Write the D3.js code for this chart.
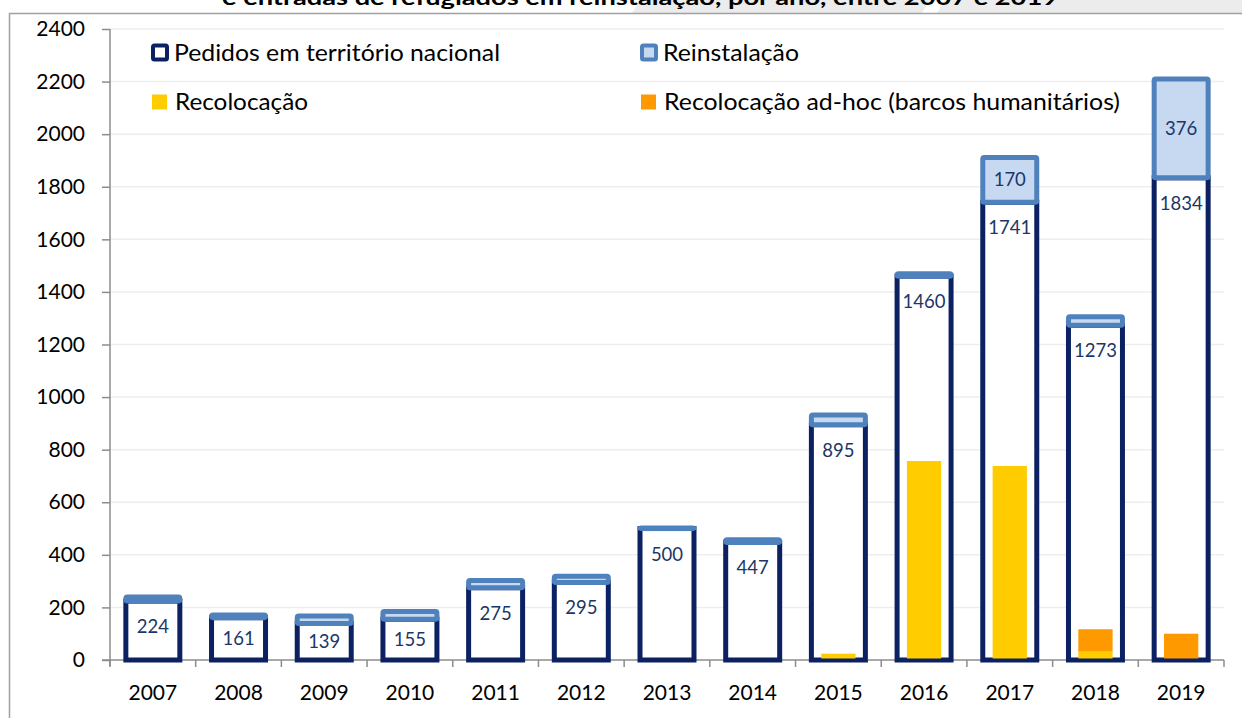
<!DOCTYPE html>
<html>
<head>
<meta charset="utf-8">
<script src="https://cdn.jsdelivr.net/npm/d3@7"></script>
<style>
  body { margin: 0; background: #fff; }
  svg { display: block; font-family: Lato, "Open Sans", sans-serif; }
</style>
</head>
<body>
<svg id="chart" width="1242" height="718"></svg>
<script>
// ---------------- data ----------------
var years = ['2007','2008','2009','2010','2011','2012','2013','2014','2015','2016','2017','2018','2019'];
var pedidos = [224,161,139,155,275,295,500,447,895,1460,1741,1273,1834];
var reinstalacao = [16,10,28,29,27,24,2,10,37,9,170,33,376];
var recolocacao = [0,0,0,0,0,0,0,0,24,757,738,32,0];
var recolocacaoAdhoc = [0,0,0,0,0,0,0,0,0,0,0,85,100];
var yTicks = [0,200,400,600,800,1000,1200,1400,1600,1800,2000,2200,2400];
var labeledReinst = ['2017','2019']; // only these caps carry a label

var title = 'e entradas de refugiados em reinstalação, por ano, entre 2007 e 2019';

var navy = '#0b2161', capStroke = '#4f81bd', capFill = '#c6d9f1';
var yellow = '#ffcc00', orange = '#ff9900', labelCol = '#1b3668';

var svg = d3.select('#chart');

// scales
var x = d3.scaleBand().domain(years).range([110, 1224]);
var y = d3.scaleLinear().domain([0, 2400]).range([660, 29]);

var outerW = x.bandwidth() * 0.63;
var innerW = x.bandwidth() * 0.40;

//----------------- title strip + frame -----------------
svg.append('path')
  .attr('d', 'M640,0 L1242,0 L1242,13 L632,13 Z')
  .attr('fill', '#ececec');
svg.append('path')
  .attr('d', 'M930,0 L945,0 L937,13 L922,13 Z')
  .attr('fill', '#fff');

svg.append('text')
  .attr('x', 640).attr('y', 5)
  .attr('text-anchor', 'middle')
  .attr('font-weight', 'bold')
  .attr('font-size', 21)
  .attr('textLength', 836)
  .attr('lengthAdjust', 'spacingAndGlyphs')
  .text(title);

svg.append('rect')
  .attr('x', 9.5).attr('y', 13.5)
  .attr('width', 1250).attr('height', 720)
  .attr('fill', 'none')
  .attr('stroke', '#a0a0a0').attr('stroke-width', 1.5);

//----------------- gridlines -----------------
svg.append('g').selectAll('line')
  .data(yTicks.filter(d => d > 0))
  .enter().append('line')
  .attr('x1', 110).attr('x2', 1224)
  .attr('y1', d => y(d)).attr('y2', d => y(d))
  .attr('stroke', '#eeeeee').attr('stroke-width', 1.5);

//----------------- axes -----------------
var yAxis = svg.append('g')
  .attr('transform', 'translate(110,0)')
  .call(d3.axisLeft(y).tickValues(yTicks).tickFormat(d3.format('d')).tickSize(8).tickPadding(17));
yAxis.select('.domain').attr('stroke', '#8c8c8c').attr('stroke-width', 1.5)
  .attr('d', 'M0,' + y(2400) + 'V666');
yAxis.selectAll('.tick line').attr('stroke', '#8c8c8c').attr('stroke-width', 1.5);
yAxis.selectAll('.tick text').attr('font-size', 21).attr('fill', '#000')
  .attr('font-family', 'Lato, sans-serif');

var xAxis = svg.append('g')
  .attr('transform', 'translate(0,660)');
xAxis.append('line')
  .attr('x1', 102).attr('x2', 1224)
  .attr('stroke', '#8c8c8c').attr('stroke-width', 1.5);
xAxis.selectAll('line.tk')
  .data(years.concat(['end']))
  .enter().append('line')
  .attr('class', 'tk')
  .attr('x1', (d, i) => 110 + i * x.step()).attr('x2', (d, i) => 110 + i * x.step())
  .attr('y1', 0).attr('y2', 7)
  .attr('stroke', '#8c8c8c').attr('stroke-width', 1.5);
xAxis.selectAll('text')
  .data(years)
  .enter().append('text')
  .attr('x', d => x(d) + x.bandwidth() / 2)
  .attr('y', 40)
  .attr('text-anchor', 'middle')
  .attr('font-size', 21)
  .text(d => d);

//----------------- bars -----------------
var rows = years.map((yr, i) => ({
  year: yr, ped: pedidos[i], rein: reinstalacao[i],
  rec: recolocacao[i], adhoc: recolocacaoAdhoc[i]
}));

var bars = svg.append('g');

// pedidos em territorio nacional (white with navy outline)
bars.selectAll('rect.ped')
  .data(rows).enter().append('rect')
  .attr('class', 'ped')
  .attr('x', d => x(d.year) + (x.bandwidth() - outerW) / 2)
  .attr('width', outerW)
  .attr('y', d => y(d.ped))
  .attr('height', d => y(0) - y(d.ped))
  .attr('fill', '#fff')
  .attr('stroke', navy).attr('stroke-width', 5);

// recolocacao (yellow) and ad-hoc (orange) stacked, narrower
bars.selectAll('rect.rec')
  .data(rows.filter(d => d.rec > 0)).enter().append('rect')
  .attr('x', d => x(d.year) + (x.bandwidth() - innerW) / 2)
  .attr('width', innerW)
  .attr('y', d => y(d.rec))
  .attr('height', d => y(0) - y(d.rec) - 1.5)
  .attr('fill', yellow);

bars.selectAll('rect.adhoc')
  .data(rows.filter(d => d.adhoc > 0)).enter().append('rect')
  .attr('x', d => x(d.year) + (x.bandwidth() - innerW) / 2)
  .attr('width', innerW)
  .attr('y', d => y(d.rec + d.adhoc))
  .attr('height', d => y(d.rec) - y(d.rec + d.adhoc) - (d.rec > 0 ? 0 : 1.5))
  .attr('fill', orange);

// reinstalacao cap on top
bars.selectAll('rect.rein')
  .data(rows).enter().append('rect')
  .attr('class', 'rein')
  .attr('x', d => x(d.year) + (x.bandwidth() - outerW) / 2)
  .attr('width', outerW)
  .attr('y', d => y(d.ped + d.rein))
  .attr('height', d => y(d.ped) - y(d.ped + d.rein))
  .attr('rx', 1.5)
  .attr('fill', capFill)
  .attr('stroke', capStroke).attr('stroke-width', 5)
  .attr('stroke-linejoin', 'round');

//----------------- data labels -----------------
bars.selectAll('text.ped')
  .data(rows).enter().append('text')
  .attr('x', d => x(d.year) + x.bandwidth() / 2)
  .attr('y', d => Math.min(y(d.ped) + 25.5, (y(d.ped) + y(0)) / 2))
  .attr('dy', '0.35em')
  .attr('text-anchor', 'middle')
  .attr('font-size', 18.5)
  .attr('fill', labelCol)
  .text(d => d.ped);

bars.selectAll('text.rein')
  .data(rows.filter(d => labeledReinst.indexOf(d.year) >= 0)).enter().append('text')
  .attr('x', d => x(d.year) + x.bandwidth() / 2)
  .attr('y', d => (y(d.ped) + y(d.ped + d.rein)) / 2)
  .attr('dy', '0.35em')
  .attr('text-anchor', 'middle')
  .attr('font-size', 18.5)
  .attr('fill', labelCol)
  .text(d => d.rein);

//----------------- legend -----------------
var legend = [
  {name: 'Pedidos em território nacional', x: 151, y: 53, w: 326, kind: 'outline', fill: '#fff', stroke: navy},
  {name: 'Reinstalação', x: 640, y: 53, w: 136, kind: 'outline', fill: capFill, stroke: capStroke},
  {name: 'Recolocação', x: 152, y: 102, w: 133, kind: 'solid', fill: yellow},
  {name: 'Recolocação ad-hoc (barcos humanitários)', x: 641, y: 102, w: 456, kind: 'solid', fill: orange}
];

var lg = svg.append('g').selectAll('g').data(legend).enter().append('g');
lg.append('rect')
  .attr('x', d => d.kind === 'outline' ? d.x + 2 : d.x)
  .attr('y', d => d.kind === 'outline' ? d.y - 7.5 : d.y - 7.5)
  .attr('width', d => d.kind === 'outline' ? 14 : 15)
  .attr('height', d => d.kind === 'outline' ? 14 : 15)
  .attr('rx', d => d.kind === 'outline' ? 1.5 : 0)
  .attr('fill', d => d.fill)
  .attr('stroke', d => d.stroke || 'none')
  .attr('stroke-width', d => d.kind === 'outline' ? 4 : 0);
lg.append('text')
  .attr('x', d => d.x + 23)
  .attr('y', d => d.y)
  .attr('dy', '0.36em')
  .attr('font-size', 22.5)
  .attr('textLength', d => d.w)
  .attr('lengthAdjust', 'spacingAndGlyphs')
  .attr('fill', '#000')
  .text(d => d.name);
</script>
</body>
</html>
